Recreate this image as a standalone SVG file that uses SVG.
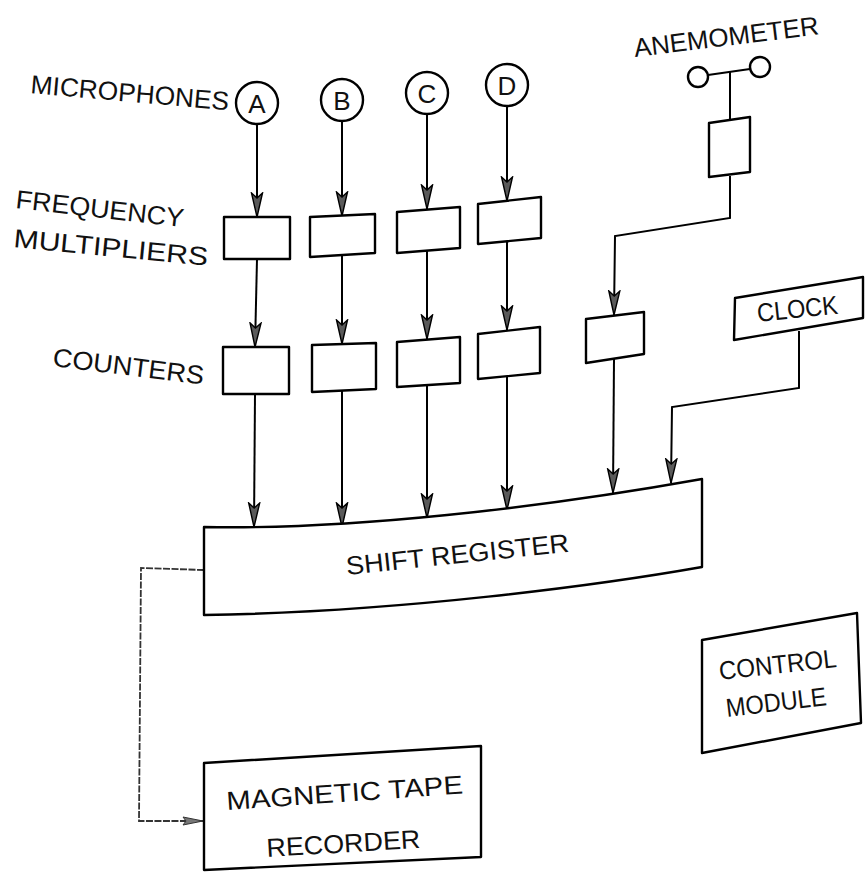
<svg xmlns="http://www.w3.org/2000/svg" width="866" height="874" viewBox="0 0 866 874">
<defs>
<marker id="arr" markerUnits="userSpaceOnUse" viewBox="0 -7 26 14" refX="25" refY="0" markerWidth="26" markerHeight="14" orient="auto">
<path d="M1,-5.5 L25,0 L1,5.5 L6,0 Z" fill="#5a5a5a" stroke="#000" stroke-width="1.4" stroke-linejoin="miter"/>
</marker>
<marker id="arrs" markerUnits="userSpaceOnUse" viewBox="0 -5 22 10" refX="21" refY="0" markerWidth="22" markerHeight="10" orient="auto">
<path d="M1,-4 L21,0 L1,4 L4,0 Z" fill="#777" stroke="#333" stroke-width="1"/>
</marker>
</defs>
<style>
.box{fill:#fff;stroke:#000;stroke-width:2.4;stroke-linejoin:round}
.ln{fill:none;stroke:#000;stroke-width:2}
.dl{fill:none;stroke:#333;stroke-width:1.8;stroke-dasharray:7 1.5}
.t{font-family:"Liberation Sans",Arial,sans-serif;font-size:26px;fill:#111}
.c{font-family:"Liberation Sans",Arial,sans-serif;font-size:26px;fill:#111;text-anchor:middle}
</style>
<rect width="866" height="874" fill="#fff"/>

<g id="labels">
<text class="t" transform="translate(30,93) rotate(5)" textLength="199" lengthAdjust="spacingAndGlyphs">MICROPHONES</text>
<text class="t" transform="translate(15,208) rotate(6.5)" textLength="169" lengthAdjust="spacingAndGlyphs">FREQUENCY</text>
<text class="t" transform="translate(13,247) rotate(5.5)" textLength="195" lengthAdjust="spacingAndGlyphs">MULTIPLIERS</text>
<text class="t" transform="translate(52,366) rotate(7)" textLength="152" lengthAdjust="spacingAndGlyphs">COUNTERS</text>
<text class="t" transform="translate(635,57) rotate(-7)" textLength="186" lengthAdjust="spacingAndGlyphs">ANEMOMETER</text>
</g>

<g id="connectors">
<line class="ln" x1="257" y1="124" x2="257" y2="217" marker-end="url(#arr)"/>
<line class="ln" x1="257" y1="259" x2="255" y2="347" marker-end="url(#arr)"/>
<line class="ln" x1="255" y1="394" x2="254" y2="527" marker-end="url(#arr)"/>
<line class="ln" x1="342" y1="121" x2="342" y2="216" marker-end="url(#arr)"/>
<line class="ln" x1="342" y1="255" x2="342" y2="344" marker-end="url(#arr)"/>
<line class="ln" x1="342" y1="391" x2="342" y2="527" marker-end="url(#arr)"/>
<line class="ln" x1="427" y1="114" x2="427" y2="209" marker-end="url(#arr)"/>
<line class="ln" x1="427" y1="250" x2="427" y2="339" marker-end="url(#arr)"/>
<line class="ln" x1="427" y1="385" x2="427" y2="518" marker-end="url(#arr)"/>
<line class="ln" x1="507" y1="106" x2="507" y2="201" marker-end="url(#arr)"/>
<line class="ln" x1="507" y1="241" x2="507" y2="330" marker-end="url(#arr)"/>
<line class="ln" x1="507" y1="376" x2="507" y2="510" marker-end="url(#arr)"/>
<path class="ln" d="M730,176 L730,218 L615,236 L614,315" marker-end="url(#arr)"/>
<line class="ln" x1="614" y1="359" x2="613" y2="493" marker-end="url(#arr)"/>
<path class="ln" d="M799,331 L799,388 L672,407 L671,483" marker-end="url(#arr)"/>
<path class="dl" d="M204,570 L141,568 L139,821 L203,821" marker-end="url(#arrs)"/>
</g>

<g id="mic-a"><circle class="box" cx="257" cy="103" r="21"/><text class="c" x="257" y="113">A</text></g>
<g id="mic-b"><circle class="box" cx="342" cy="100" r="21"/><text class="c" x="342" y="110">B</text></g>
<g id="mic-c"><circle class="box" cx="427" cy="93" r="21"/><text class="c" x="427" y="103">C</text></g>
<g id="mic-d"><circle class="box" cx="507" cy="85" r="21"/><text class="c" x="507" y="95">D</text></g>

<g id="fm-a"><polygon class="box" points="224,217 290,217 290,259 224,259"/></g>
<g id="fm-b"><polygon class="box" points="310,217 375,214 375,253 310,257"/></g>
<g id="fm-c"><polygon class="box" points="397,212 460,207 460,248 397,253"/></g>
<g id="fm-d"><polygon class="box" points="478,204 541,197 541,238 478,244"/></g>

<g id="cnt-a"><polygon class="box" points="223,347 289,347 289,394 223,394"/></g>
<g id="cnt-b"><polygon class="box" points="312,345 376,343 376,389 312,392"/></g>
<g id="cnt-c"><polygon class="box" points="397,342 460,337 460,383 397,387"/></g>
<g id="cnt-d"><polygon class="box" points="478,334 540,327 540,373 478,379"/></g>

<g id="anemometer">
<circle class="box" cx="698" cy="77" r="10"/>
<circle class="box" cx="760" cy="67" r="10"/>
<line class="ln" x1="708" y1="75" x2="750" y2="69"/>
<line class="ln" x1="730" y1="72" x2="730" y2="120"/>
</g>
<g id="anem-conv"><polygon class="box" points="709,123 750,117 750,172 709,177"/></g>
<g id="anem-cnt"><polygon class="box" points="586,319 644,312 644,354 586,363"/></g>

<g id="clock">
<polygon class="box" points="735,298 863,277 863,318 734,340"/>
<text class="t" transform="translate(758,322) rotate(-6)" textLength="81" lengthAdjust="spacingAndGlyphs" font-size="25">CLOCK</text>
</g>

<g id="shift-register">
<path class="box" d="M204,527 C350,530 540,508 702,479 L702,567 C600,585 400,612 204,615 Z"/>
<text class="t" transform="translate(347,575) rotate(-6)" textLength="224" lengthAdjust="spacingAndGlyphs">SHIFT REGISTER</text>
</g>

<g id="control-module">
<polygon class="box" points="702,640 857,613 861,723 702,753"/>
<text class="t" transform="translate(720,680) rotate(-6.3)" textLength="118" lengthAdjust="spacingAndGlyphs">CONTROL</text>
<text class="t" transform="translate(727,717) rotate(-6.8)" textLength="101" lengthAdjust="spacingAndGlyphs">MODULE</text>
</g>

<g id="tape-recorder">
<polygon class="box" points="204,763 481,746 481,857 204,870"/>
<text class="t" transform="translate(227,810) rotate(-4)" textLength="237" lengthAdjust="spacingAndGlyphs">MAGNETIC TAPE</text>
<text class="t" transform="translate(267,857) rotate(-3.4)" textLength="154" lengthAdjust="spacingAndGlyphs">RECORDER</text>
</g>
</svg>
